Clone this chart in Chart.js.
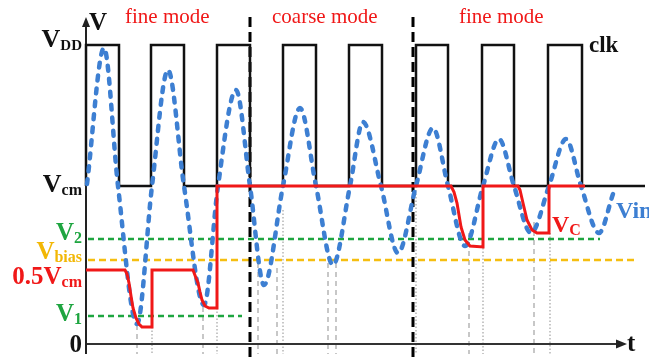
<!DOCTYPE html>
<html>
<head>
<meta charset="utf-8">
<script src="https://cdn.jsdelivr.net/npm/chart.js@4"></script>
<style>
  html, body { margin: 0; padding: 0; background: #fff; }
  #wrap { width: 649px; height: 357px; }
</style>
</head>
<body>
<div id="wrap"><canvas id="timing" width="649" height="357"></canvas></div>
<script>
// voltage levels, measured upward from the t axis
const VDD = 299, VCM = 158, V2 = 105, VBIAS = 84, HALF_VCM = 74, V1 = 28;

// clock edges (t)
const clkRise = [86, 151, 217, 283, 349, 416, 482, 548];
const clkFall = [119, 184, 250, 316, 382, 448, 514, 582];
const clkEnd = 645;

// mode boundaries
const modeEdges = [250, 413];

// Vin (dotted blue)
const vinT = [87, 104, 118, 137, 152, 168, 184, 204, 218, 236, 250, 264, 283, 300, 316, 333,
  350, 363, 381, 398, 416, 433, 448, 465, 483, 499, 514, 531, 549, 566, 581, 599, 613];
const vinV = [160, 296, 158, 20, 158, 274, 158, 39, 158, 254, 158, 59, 158, 236, 158, 79,
  158, 222, 158, 91, 158, 216, 158, 98, 158, 205, 158, 111, 158, 205, 158, 111, 150];

// Vc (red)
const vcT = [86, 125, 127, 129, 131, 133, 136, 139, 142, 152, 152, 193, 196, 198, 200, 202, 205, 209, 217,
  217, 451, 454, 457, 461, 465, 470, 483, 483, 518, 520, 523, 527, 532, 537, 549, 549, 585];
const vcV = [74, 74, 70, 61, 48, 36, 26, 20, 17, 17, 74, 74, 66, 61, 52, 44, 38, 36, 36,
  158, 158, 152, 141, 117, 104, 98, 97, 158, 158, 154, 141, 124, 114, 111, 111, 158, 158];

// thin grey sampling guides: t, top level, dotted?
const guideT = [137, 152, 203, 217, 258, 277, 283, 328, 336, 416, 469, 483, 534, 550];
const guideTop = [19, 17, 37, 36, 81, 76, 134, 81, 81, 154, 111, 96, 122, 111];
const guideDot = [0, 1, 0, 1, 0, 0, 1, 0, 0, 1, 0, 1, 0, 1];

const pts = (ts, vs) => ts.map((t, i) => ({ x: t, y: vs[i] }));

const clkPts = [];
clkRise.forEach((r, i) => {
  if (i > 0) clkPts.push({ x: r, y: VCM });
  clkPts.push({ x: r, y: VDD }, { x: clkFall[i], y: VDD }, { x: clkFall[i], y: VCM });
});
clkPts.unshift({ x: clkRise[0], y: VCM });
clkPts.push({ x: clkEnd, y: VCM });

const line = (data, color, width, dash, order, extra) => Object.assign({
  data, borderColor: color, borderWidth: width, borderDash: dash || [],
  pointRadius: 0, tension: 0, fill: false, order
}, extra || {});

const datasets = [
  line(pts(vcT, vcV), '#f01818', 3, null, 0),
  line(pts(vinT, vinV), '#3d7fd2', 4.5, [5, 8], 1, { cubicInterpolationMode: 'monotone', borderCapStyle: 'round' }),
  line(clkPts, '#111', 2.5, null, 2),
  line([{ x: 88, y: V2 }, { x: 600, y: V2 }], '#1ea540', 2.5, [6, 4], 4),
  line([{ x: 88, y: V1 }, { x: 242, y: V1 }], '#1ea540', 2.5, [6, 4], 4),
  line([{ x: 88, y: VBIAS }, { x: 638, y: VBIAS }], '#f5be10', 2.5, [7, 4], 4),
  line([{ x: 86, y: -10 }, { x: 86, y: 322 }], '#222', 2, null, 5),
  line([{ x: 86, y: 0 }, { x: 620, y: 0 }], '#333', 2, null, 5)
];
modeEdges.forEach(t => datasets.push(line([{ x: t, y: -13 }, { x: t, y: 329 }], '#000', 3, [10, 5], 3)));
guideT.forEach((t, i) => datasets.push(line([{ x: t, y: guideTop[i] }, { x: t, y: -10 }],
  '#8f8f8f', 1, guideDot[i] ? [1.5, 2] : [5, 4], 6)));

const serif = '"Liberation Serif", "Times New Roman", serif';

function subLabel(ctx, xr, base, main, small, color, big, little, leftAlign) {
  ctx.fillStyle = color;
  ctx.font = 'bold ' + big + 'px ' + serif;
  const w1 = ctx.measureText(main).width;
  ctx.font = 'bold ' + little + 'px ' + serif;
  const w2 = small ? ctx.measureText(small).width : 0;
  const x0 = leftAlign ? xr : xr - w1 - w2;
  ctx.textAlign = 'left';
  ctx.textBaseline = 'alphabetic';
  ctx.font = 'bold ' + big + 'px ' + serif;
  ctx.fillText(main, x0, base);
  if (small) {
    ctx.font = 'bold ' + little + 'px ' + serif;
    ctx.fillText(small, x0 + w1, base + 3);
  }
}

const annotate = {
  id: 'annotate',
  afterDatasetsDraw(chart) {
    const { ctx, scales: { x, y } } = chart;
    ctx.save();
    // arrow heads
    ctx.fillStyle = '#222';
    const ax = x.getPixelForValue(86), top = y.getPixelForValue(322);
    ctx.beginPath();
    ctx.moveTo(ax, top - 5); ctx.lineTo(ax - 4, top + 5); ctx.lineTo(ax + 4, top + 5);
    ctx.closePath(); ctx.fill();
    const tx = x.getPixelForValue(620), ay = y.getPixelForValue(0);
    ctx.beginPath();
    ctx.moveTo(tx + 7, ay); ctx.lineTo(tx - 4, ay - 4.5); ctx.lineTo(tx - 4, ay + 4.5);
    ctx.closePath(); ctx.fill();

    const lx = x.getPixelForValue(82);
    subLabel(ctx, lx, y.getPixelForValue(VDD) + 2, 'V', 'DD', '#111', 26, 15);
    subLabel(ctx, lx, y.getPixelForValue(VCM) + 6, 'V', 'cm', '#111', 26, 16);
    subLabel(ctx, lx, y.getPixelForValue(V2) + 1, 'V', '2', '#1ea540', 25, 16);
    subLabel(ctx, lx, y.getPixelForValue(VBIAS) - 1, 'V', 'bias', '#f2b705', 25, 16);
    subLabel(ctx, lx, y.getPixelForValue(HALF_VCM) + 14, '0.5V', 'cm', '#f01818', 25, 16);
    subLabel(ctx, lx, y.getPixelForValue(V1) + 5, 'V', '1', '#1ea540', 25, 16);
    subLabel(ctx, lx, y.getPixelForValue(0) + 8, '0', '', '#111', 25, 16);

    subLabel(ctx, x.getPixelForValue(89), y.getPixelForValue(314), 'V', '', '#111', 25, 16, true);
    subLabel(ctx, x.getPixelForValue(627), y.getPixelForValue(-7), 't', '', '#111', 25, 16, true);
    subLabel(ctx, x.getPixelForValue(589), y.getPixelForValue(292), 'clk', '', '#111', 23, 16, true);
    subLabel(ctx, x.getPixelForValue(552), y.getPixelForValue(112), 'V', 'C', '#f01818', 24, 16, true);
    subLabel(ctx, x.getPixelForValue(616), y.getPixelForValue(126), 'Vin', '', '#3d7fd2', 24, 16, true);

    ctx.fillStyle = '#f01818';
    ctx.font = '21px ' + serif;
    const modeNames = ['fine mode', 'coarse mode', 'fine mode'];
    const modeT = [125, 272, 459];
    modeNames.forEach((m, i) => ctx.fillText(m, x.getPixelForValue(modeT[i]), y.getPixelForValue(321)));
    ctx.restore();
  }
};

new Chart(document.getElementById('timing'), {
  type: 'line',
  data: { datasets },
  options: {
    responsive: false,
    animation: false,
    devicePixelRatio: 1,
    layout: { padding: 0 },
    plugins: { legend: { display: false }, tooltip: { enabled: false } },
    scales: {
      x: { type: 'linear', min: 0, max: 649, display: false },
      y: { type: 'linear', min: -13, max: 344, display: false }
    }
  },
  plugins: [annotate]
});
</script>
</body>
</html>
